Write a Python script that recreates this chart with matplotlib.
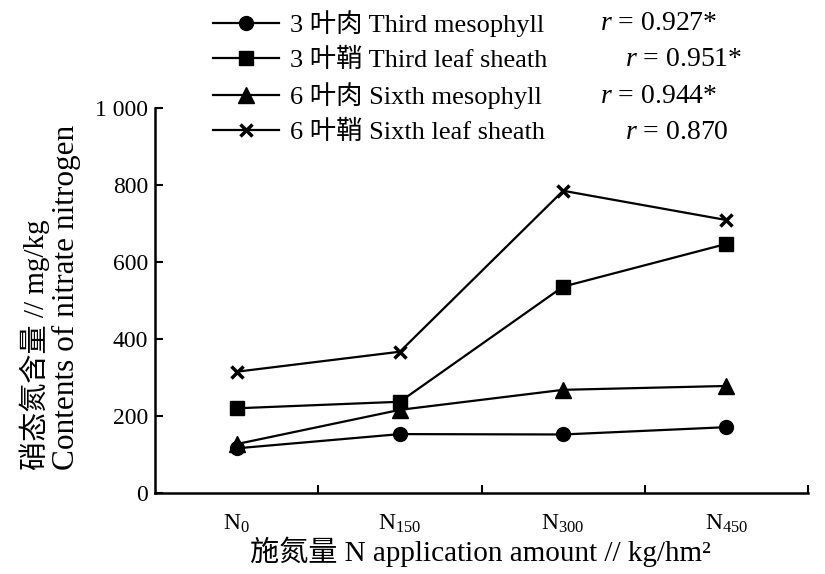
import matplotlib
matplotlib.use('Agg')
import matplotlib.pyplot as plt

plt.rcParams['font.family'] = ['Liberation Serif', 'Noto Sans CJK SC']
plt.rcParams['mathtext.fontset'] = 'custom'
plt.rcParams['mathtext.rm'] = 'Liberation Serif'
plt.rcParams['mathtext.it'] = 'Liberation Serif:italic'

# nitrate nitrogen content (mg/kg) under four N rates
categories = ['N$_{0}$', 'N$_{150}$', 'N$_{300}$', 'N$_{450}$']
third_mesophyll = [116, 153, 152, 171]
third_sheath = [220, 237, 536, 647]
sixth_mesophyll = [127, 216, 268, 278]
sixth_sheath = [315, 367, 785, 709]

series_names = ['3 叶肉 Third mesophyll', '3 叶鞘 Third leaf sheath',
                '6 叶肉 Sixth mesophyll', '6 叶鞘 Sixth leaf sheath']
r_labels = ['$r$ = 0.927*', '$r$ = 0.951*', '$r$ = 0.944*', '$r$ = 0.870']
r_x = [600, 625, 600, 625]

y_ticks = [0, 200, 400, 600, 800, 1000]
y_tick_labels = ['0', '200', '400', '600', '800', '1 000']

W, H = 825, 574
fig = plt.figure(figsize=(W / 100, H / 100), dpi=100)
ax = fig.add_axes([155 / W, 81 / H, 653 / W, 385 / H])

x = range(len(categories))
styles = [('o', 10, third_mesophyll), ('s', 10, third_sheath),
          ('^', 11, sixth_mesophyll), ('x', 9, sixth_sheath)]
for (marker, ms, vals), name in zip(styles, series_names):
    ax.plot(x, vals, color='black', lw=1.6, marker=marker, markersize=ms,
            markeredgewidth=2.5 if marker == 'x' else 1, label=name)

ax.set_xlim(-0.5, 3.5)
ax.set_ylim(0, 1000)
ax.set_xticks(list(x))
ax.set_xticklabels(categories, fontsize=17)
ax.set_xticks([0.5, 1.5, 2.5, 3.5], minor=True)
ax.tick_params(axis='x', which='major', length=0, pad=14)
ax.tick_params(axis='x', which='minor', direction='in', length=6, width=1.5)
ax.set_yticks(y_ticks)
ax.set_yticklabels(y_tick_labels, fontsize=17)
ax.tick_params(axis='y', direction='in', length=6, width=1.5, pad=5)

for side in ['top', 'right']:
    ax.spines[side].set_visible(False)
for side in ['left', 'bottom']:
    ax.spines[side].set_linewidth(1.8)

leg = ax.legend(loc='upper left', bbox_to_anchor=(213 / W, 1 - 10 / H),
                bbox_transform=fig.transFigure, frameon=False, fontsize=19,
                handlelength=2.5, handletextpad=0.4, labelspacing=0.41,
                borderpad=0, borderaxespad=0)

fig.text(35 / W, 1 - 470 / H, '硝态氮含量 // mg/kg', rotation=90,
         ha='center', va='bottom', fontsize=21)
fig.text(66 / W, 1 - 470 / H, 'Contents of nitrate nitrogen', rotation=90,
         ha='center', va='bottom', fontsize=22.5)
fig.text(480 / W, 1 - 552 / H, '施氮量 N application amount // kg/hm²',
         ha='center', va='center', fontsize=21)

# correlation coefficients next to each legend row
fig.canvas.draw()
renderer = fig.canvas.get_renderer()
for t, lab, rx in zip(leg.get_texts(), r_labels, r_x):
    bb = t.get_window_extent(renderer)
    yc = (bb.y0 + bb.y1) / 2
    fig.text(rx / W, yc / H, lab, ha='left', va='center', fontsize=20)

fig.savefig('out.png', dpi=100)
